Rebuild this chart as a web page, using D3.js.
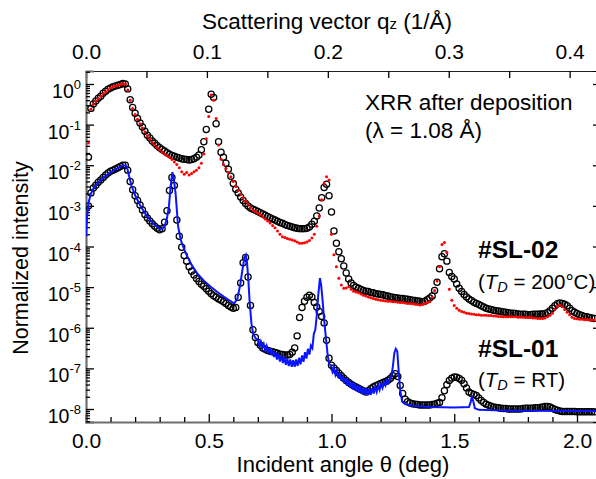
<!DOCTYPE html>
<html>
<head>
<meta charset="utf-8">
<script src="https://cdn.jsdelivr.net/npm/d3@7"></script>
<style>
body { margin: 0; background: #fff; }
svg { font-family: "Liberation Sans", Arial, sans-serif; }
</style>
</head>
<body>
<svg id="chart" width="596" height="479"></svg>
<script>
// measured angles: theta = thetaStart + i * thetaStep (deg), values are log10 of normalized intensity
var thetaStart = 0.01;
var thetaStep = 0.01;

// #SL-02 data (open circles)
var sl02Data = [
	-1.80, -0.60, -0.49, -0.42, -0.35, -0.30, -0.23, -0.18, -0.13, -0.10,
	-0.07, -0.05, -0.03, -0.01, 0.01, 0.00, -0.12, -0.39, -0.58, -0.72,
	-0.85, -0.96, -1.06, -1.16, -1.26, -1.33, -1.40, -1.46, -1.52, -1.57,
	-1.61, -1.65, -1.69, -1.73, -1.76, -1.78, -1.80, -1.82, -1.84, -1.85,
	-1.86, -1.87, -1.86, -1.84, -1.80, -1.75, -1.62, -1.42, -1.12, -0.62,
	-0.25, -0.33, -0.98, -1.42, -1.68, -1.80, -1.95, -2.10, -2.27, -2.45,
	-2.59, -2.68, -2.78, -2.87, -2.94, -3.00, -3.05, -3.08, -3.11, -3.14,
	-3.17, -3.20, -3.23, -3.26, -3.29, -3.32, -3.35, -3.38, -3.41, -3.43,
	-3.46, -3.48, -3.50, -3.52, -3.54, -3.55, -3.56, -3.56, -3.56, -3.55,
	-3.52, -3.45, -3.38, -3.25, -3.05, -2.80, -2.55, -2.47, -2.75, -3.15,
	-3.62, -3.92, -4.13, -4.30, -4.48, -4.65, -4.80, -4.90, -4.96, -5.00,
	-5.03, -5.06, -5.08, -5.10, -5.11, -5.13, -5.14, -5.16, -5.17, -5.18,
	-5.19, -5.21, -5.22, -5.24, -5.25, -5.26, -5.27, -5.28, -5.28, -5.29,
	-5.30, -5.31, -5.32, -5.33, -5.34, -5.35, -5.36, -5.35, -5.31, -5.27,
	-5.22, -5.08, -4.88, -4.55, -4.25, -4.18, -4.36, -4.64, -4.74, -4.80,
	-4.92, -5.03, -5.11, -5.18, -5.24, -5.29, -5.33, -5.37, -5.40, -5.43,
	-5.46, -5.49, -5.52, -5.54, -5.55, -5.57, -5.58, -5.59, -5.60, -5.61,
	-5.62, -5.63, -5.64, -5.64, -5.65, -5.66, -5.67, -5.67, -5.67, -5.68,
	-5.68, -5.67, -5.67, -5.67, -5.66, -5.66, -5.65, -5.63, -5.58, -5.52,
	-5.46, -5.41, -5.39, -5.40, -5.42, -5.46, -5.52, -5.58, -5.62, -5.65,
	-5.68, -5.70, -5.72, -5.73, -5.75, -5.76, -5.77
];

// #SL-02 fit (red dots)
var sl02Fit = [
	-1.45, -0.62, -0.50, -0.42, -0.36, -0.30, -0.24, -0.19, -0.14, -0.10,
	-0.07, -0.05, -0.03, -0.01, 0.00, 0.00, -0.15, -0.40, -0.60, -0.75,
	-0.87, -0.98, -1.08, -1.18, -1.28, -1.36, -1.44, -1.50, -1.56, -1.62,
	-1.68, -1.72, -1.76, -1.80, -1.86, -1.92, -1.98, -2.06, -2.16, -2.22,
	-2.18, -2.24, -2.20, -2.16, -2.12, -2.06, -1.95, -1.72, -1.35, -0.80,
	-0.27, -0.40, -0.85, -1.50, -1.85, -1.98, -2.08, -2.18, -2.28, -2.40,
	-2.52, -2.62, -2.72, -2.80, -2.88, -2.96, -3.04, -3.10, -3.14, -3.18,
	-3.22, -3.27, -3.32, -3.37, -3.42, -3.48, -3.54, -3.62, -3.70, -3.76,
	-3.78, -3.80, -3.82, -3.84, -3.86, -3.89, -3.92, -3.92, -3.91, -3.89,
	-3.85, -3.79, -3.70, -3.50, -3.25, -2.85, -2.45, -2.28, -2.36, -3.70,
	-4.20, -4.50, -4.78, -4.95, -5.03, -5.02, -4.99, -5.05, -5.10, -5.12,
	-5.14, -5.17, -5.20, -5.22, -5.24, -5.26, -5.28, -5.30, -5.31, -5.32,
	-5.33, -5.34, -5.35, -5.35, -5.36, -5.36, -5.37, -5.38, -5.38, -5.39,
	-5.40, -5.40, -5.41, -5.42, -5.43, -5.44, -5.43, -5.41, -5.38, -5.36,
	-5.25, -5.08, -4.85, -4.50, -3.95, -3.90, -4.15, -5.05, -5.32, -5.45,
	-5.52, -5.57, -5.60, -5.62, -5.64, -5.65, -5.66, -5.67, -5.68, -5.68,
	-5.69, -5.69, -5.69, -5.70, -5.70, -5.71, -5.71, -5.72, -5.72, -5.73,
	-5.73, -5.73, -5.73, -5.73, -5.73, -5.74, -5.74, -5.74, -5.75, -5.75,
	-5.75, -5.76, -5.76, -5.77, -5.77, -5.77, -5.76, -5.73, -5.69, -5.64,
	-5.55, -5.47, -5.44, -5.48, -5.55, -5.62, -5.68, -5.74, -5.77, -5.78,
	-5.79, -5.79, -5.80, -5.80, -5.80, -5.81, -5.81
];

// #SL-01 data (open circles)
var sl01Data = [
	-3.00, -2.68, -2.56, -2.49, -2.42, -2.36, -2.30, -2.24, -2.19, -2.15,
	-2.12, -2.09, -2.06, -2.03, -2.00, -2.00, -2.12, -2.40, -2.60, -2.75,
	-2.87, -2.98, -3.10, -3.21, -3.30, -3.37, -3.44, -3.50, -3.55, -3.59,
	-3.56, -3.40, -3.12, -2.62, -2.30, -2.50, -3.35, -3.75, -4.02, -4.22,
	-4.36, -4.50, -4.61, -4.70, -4.79, -4.86, -4.93, -4.98, -5.04, -5.10,
	-5.16, -5.21, -5.25, -5.29, -5.32, -5.36, -5.40, -5.45, -5.49, -5.52,
	-5.50, -5.25, -4.90, -4.40, -4.27, -4.75, -5.45, -6.05, -6.24, -6.36,
	-6.43, -6.50, -6.53, -6.56, -6.58, -6.59, -6.61, -6.63, -6.65, -6.66,
	-6.67, -6.67, -6.66, -6.60, -6.50, -6.20, -5.75, -5.50, -5.35, -5.25,
	-5.20, -5.24, -5.38, -5.49, -5.60, -5.72, -5.88, -6.31, -6.75, -6.92,
	-6.99, -7.05, -7.12, -7.18, -7.24, -7.30, -7.35, -7.39, -7.43, -7.46,
	-7.49, -7.52, -7.55, -7.58, -7.55, -7.50, -7.46, -7.43, -7.40, -7.37,
	-7.35, -7.32, -7.29, -7.25, -7.18, -7.13, -7.20, -7.42, -7.62, -7.76,
	-7.82, -7.85, -7.87, -7.88, -7.89, -7.90, -7.90, -7.90, -7.90, -7.90,
	-7.89, -7.88, -7.86, -7.84, -7.72, -7.55, -7.40, -7.30, -7.24, -7.21,
	-7.22, -7.25, -7.29, -7.38, -7.48, -7.58, -7.62, -7.64, -7.67, -7.73,
	-7.79, -7.84, -7.88, -7.91, -7.93, -7.95, -7.96, -7.97, -7.98, -7.99,
	-7.99, -8.00, -8.00, -8.00, -8.00, -8.00, -8.00, -7.99, -7.98, -7.98,
	-7.98, -7.98, -7.97, -7.97, -7.96, -7.95, -7.94, -7.94, -7.95, -7.98,
	-8.01, -8.03, -8.05, -8.06, -8.06, -8.06, -8.06, -8.06, -8.06, -8.07,
	-8.07, -8.07, -8.07, -8.07, -8.07, -8.07, -8.07
];

// #SL-01 fit (blue line), own angle list
var sl01FitTheta = [
	0.000, 0.004, 0.008, 0.012, 0.020, 0.030, 0.050, 0.070, 0.090, 0.110,
	0.130, 0.150, 0.160, 0.167, 0.175, 0.185, 0.200, 0.220, 0.240, 0.260,
	0.280, 0.300, 0.310, 0.320, 0.330, 0.338, 0.345, 0.352, 0.358, 0.365,
	0.375, 0.386, 0.400, 0.413, 0.430, 0.453, 0.480, 0.508, 0.535, 0.562,
	0.585, 0.603, 0.616, 0.628, 0.637, 0.645, 0.651, 0.656, 0.661, 0.667,
	0.674, 0.681, 0.690,
	0.700, 0.706, 0.712, 0.718, 0.724, 0.730, 0.736, 0.742, 0.748, 0.754,
	0.760, 0.766, 0.772, 0.778, 0.784, 0.790, 0.796, 0.802, 0.808, 0.814,
	0.820, 0.826, 0.832, 0.838, 0.844, 0.850, 0.856, 0.862, 0.868, 0.874,
	0.880, 0.886, 0.892, 0.898, 0.904, 0.910, 0.916, 0.922, 0.928, 0.934,
	0.940, 0.946, 0.953, 0.958, 0.964, 0.970, 0.978, 0.985, 0.991, 0.998,
	1.004, 1.010, 1.016, 1.022, 1.028, 1.034, 1.040, 1.046, 1.052, 1.058,
	1.064, 1.070, 1.076, 1.082, 1.088, 1.094, 1.100, 1.106, 1.112, 1.118,
	1.124, 1.130, 1.136, 1.142, 1.148, 1.154, 1.160, 1.166, 1.172, 1.178,
	1.184, 1.190, 1.196, 1.202, 1.208, 1.214, 1.220, 1.226, 1.232, 1.238,
	1.244, 1.250, 1.256, 1.262, 1.268, 1.274, 1.280, 1.288, 1.300, 1.330,
	1.400, 1.500, 1.560, 1.566, 1.572, 1.578, 1.584, 1.600, 1.700, 2.080
];
var sl01FitLog = [
	-3.76, -3.30, -3.05, -2.88, -2.70, -2.58, -2.43, -2.31, -2.22, -2.14,
	-2.07, -2.01, -2.00, -2.05, -2.25, -2.50, -2.74, -2.98, -3.18, -3.34,
	-3.47, -3.56, -3.57, -3.50, -3.30, -3.00, -2.50, -2.17, -2.35, -2.70,
	-3.50, -3.84, -4.07, -4.25, -4.45, -4.66, -4.84, -4.99, -5.12, -5.24,
	-5.33, -5.40, -5.30, -4.95, -4.58, -4.28, -4.21, -4.40, -4.80, -5.40,
	-5.90, -6.15, -6.25,
	-6.30, -6.44, -6.34, -6.50, -6.40, -6.56, -6.45, -6.62, -6.50, -6.67,
	-6.55, -6.72, -6.60, -6.78, -6.64, -6.83, -6.68, -6.87, -6.72, -6.91,
	-6.76, -6.94, -6.78, -6.96, -6.80, -6.96, -6.78, -6.94, -6.74, -6.90,
	-6.68, -6.84, -6.60, -6.76, -6.52, -6.66, -6.44, -6.50, -6.15, -6.05,
	-5.70, -5.20, -4.78, -4.95, -5.35, -5.80, -6.30, -6.70, -6.90, -6.92,
	-7.08, -6.98, -7.16, -7.06, -7.24, -7.12, -7.30, -7.18, -7.36, -7.24,
	-7.42, -7.28, -7.47, -7.33, -7.52, -7.37, -7.56, -7.41, -7.60, -7.44,
	-7.63, -7.47, -7.65, -7.49, -7.66, -7.50, -7.65, -7.49, -7.62, -7.46,
	-7.58, -7.42, -7.53, -7.38, -7.48, -7.34, -7.42, -7.30, -7.36, -7.25,
	-7.20, -6.95, -6.62, -6.52, -6.58, -7.10, -7.55, -7.82, -7.88, -7.92,
	-7.95, -7.96, -7.95, -7.85, -7.69, -7.82, -7.98, -8.02, -8.04, -8.05
];

// axis ticks
var bottomTicks = [0, 0.5, 1.0, 1.5, 2.0];
var decades = [0, -1, -2, -3, -4, -5, -6, -7, -8];
var lambda = 1.08; // Å

var svg = d3.select("#chart");
var plot = { left: 86, right: 597, top: 71, bottom: 422 };

var x = d3.scaleLinear().domain([0, 2.0815]).range([plot.left, plot.right]);
var y = d3.scaleLog().domain([Math.pow(10, -8.32), Math.pow(10, 0.32)]).range([plot.bottom, plot.top]);

// q_z = 4 pi sin(theta) / lambda
var qOf = (th) => 4 * Math.PI * Math.sin(th * Math.PI / 180) / lambda;
var q = d3.scaleLinear().domain([0, qOf(2.0815)]).range([plot.left, plot.right]);

var toPoints = (vals) => vals.map((v, i) => ({ th: thetaStart + i * thetaStep, I: Math.pow(10, v) }));

svg.append("defs").append("clipPath").attr("id", "clip")
	.append("rect")
	.attr("x", plot.left).attr("y", plot.top)
	.attr("width", plot.right - plot.left).attr("height", plot.bottom - plot.top);

// ---- axes ----
var minorX = d3.range(1, 21).map((d) => d / 10).filter((d) => bottomTicks.indexOf(d) < 0);
var minorY = [];
decades.concat([-9]).forEach((e) => {
	for (var k = 2; k <= 9; k++) {
		var v = k * Math.pow(10, e);
		if (v > y.domain()[0] && v < y.domain()[1]) minorY.push(v);
	}
});

var gx = svg.append("g")
	.attr("transform", "translate(0," + plot.bottom + ")")
	.call(d3.axisBottom(x).tickValues(bottomTicks).tickSize(-8).tickPadding(11).tickFormat(d3.format(".1f")));
svg.append("g")
	.attr("transform", "translate(0," + plot.bottom + ")")
	.call(d3.axisBottom(x).tickValues(minorX).tickSize(-5).tickFormat(""))
	.call((g) => g.select(".domain").remove());

var gt = svg.append("g")
	.attr("transform", "translate(0," + plot.top + ")")
	.call(d3.axisTop(q).tickValues(d3.range(0, 0.43, 0.05)).tickSize(-7).tickPadding(12)
		.tickFormat((d) => Math.abs(d * 10 - Math.round(d * 10)) < 1e-6 ? d3.format(".1f")(d) : ""));

var gy = svg.append("g")
	.attr("transform", "translate(" + plot.left + ",0)")
	.call(d3.axisLeft(y).tickValues(decades.map((e) => Math.pow(10, e))).tickSize(-8).tickFormat(""));
svg.append("g")
	.attr("transform", "translate(" + plot.left + ",0)")
	.call(d3.axisLeft(y).tickValues(minorY).tickSize(-4).tickFormat(""))
	.call((g) => g.select(".domain").remove());

svg.append("g")
	.attr("transform", "translate(" + plot.right + ",0)")
	.call(d3.axisRight(y).tickValues(decades.map((e) => Math.pow(10, e))).tickSize(-4).tickFormat(""));

svg.selectAll(".tick line").attr("stroke", "#000").attr("stroke-width", 1.3);
svg.selectAll(".tick text").attr("font-size", 21).attr("font-family", "Liberation Sans, Arial, sans-serif").attr("fill", "#000");
gx.select(".domain").attr("stroke", "#6f6f6f").attr("stroke-width", 2.2);
gy.select(".domain").attr("stroke", "#6f6f6f").attr("stroke-width", 2.2);
gt.select(".domain").attr("stroke", "#222").attr("stroke-width", 1);

// y tick labels 10^n
decades.forEach((e) => {
	var t = svg.append("text")
		.attr("x", 81)
		.attr("y", y(Math.pow(10, e)) + 14)
		.attr("text-anchor", "end")
		.attr("fill", "#000");
	t.append("tspan").attr("font-size", 19.5).text("10");
	t.append("tspan").attr("font-size", 13).attr("dy", -9).text(e);
});

// ---- marks ----
var marks = svg.append("g").attr("clip-path", "url(#clip)");

marks.append("g").selectAll("circle")
	.data(toPoints(sl02Data))
	.enter().append("circle")
		.attr("cx", (d) => x(d.th))
		.attr("cy", (d) => y(d.I))
		.attr("r", 3.1)
		.attr("fill", "none")
		.attr("stroke", "#000")
		.attr("stroke-width", 1.25);

marks.append("g").selectAll("circle")
	.data(toPoints(sl02Fit))
	.enter().append("circle")
		.attr("cx", (d) => x(d.th))
		.attr("cy", (d) => y(d.I))
		.attr("r", 1.5)
		.attr("fill", "#ff0000");

marks.append("g").selectAll("circle")
	.data(toPoints(sl01Data))
	.enter().append("circle")
		.attr("cx", (d) => x(d.th))
		.attr("cy", (d) => y(d.I))
		.attr("r", 3.1)
		.attr("fill", "none")
		.attr("stroke", "#000")
		.attr("stroke-width", 1.25);

var fitLine = d3.line()
	.x((d) => x(d.th))
	.y((d) => y(d.I));

marks.append("path")
	.datum(sl01FitTheta.map((th, i) => ({ th: th, I: Math.pow(10, sl01FitLog[i]) })))
	.attr("d", fitLine)
	.attr("fill", "none")
	.attr("stroke", "#0a14ff")
	.attr("stroke-width", 2);

// ---- titles ----
var topTitle = svg.append("text").attr("x", 202).attr("y", 29).attr("font-size", 22.5).attr("fill", "#000");
topTitle.append("tspan").text("Scattering vector q");
topTitle.append("tspan").attr("font-size", 15).text("z");
topTitle.append("tspan").text(" (1/Å)");

svg.append("text")
	.attr("x", 343).attr("y", 472)
	.attr("text-anchor", "middle")
	.attr("font-size", 22)
	.attr("fill", "#000")
	.text("Incident angle θ (deg)");

svg.append("text")
	.attr("transform", "translate(28,258) rotate(-90)")
	.attr("text-anchor", "middle")
	.attr("font-size", 21.5)
	.attr("fill", "#000")
	.text("Normalized intensity");

// ---- annotations ----
svg.append("text").attr("x", 365).attr("y", 110).attr("font-size", 22.5).text("XRR after deposition");
svg.append("text").attr("x", 365).attr("y", 138).attr("font-size", 22.5).text("(λ = 1.08 Å)");

svg.append("text").attr("x", 478).attr("y", 258).attr("font-size", 24.5).attr("font-weight", "bold").text("#SL-02");
svg.append("text").attr("x", 478).attr("y", 357).attr("font-size", 24.5).attr("font-weight", "bold").text("#SL-01");

function tdLabel(yPos, value) {
	var t = svg.append("text").attr("x", 478).attr("y", yPos).attr("font-size", 20.5);
	t.append("tspan").text("(");
	t.append("tspan").attr("font-style", "italic").text("T");
	t.append("tspan").attr("font-style", "italic").attr("font-size", 14.5).attr("dy", 3).text("D");
	t.append("tspan").attr("dy", -3).text(" = " + value + ")");
}
tdLabel(289, "200°C");
tdLabel(387, "RT");
</script>
</body>
</html>
